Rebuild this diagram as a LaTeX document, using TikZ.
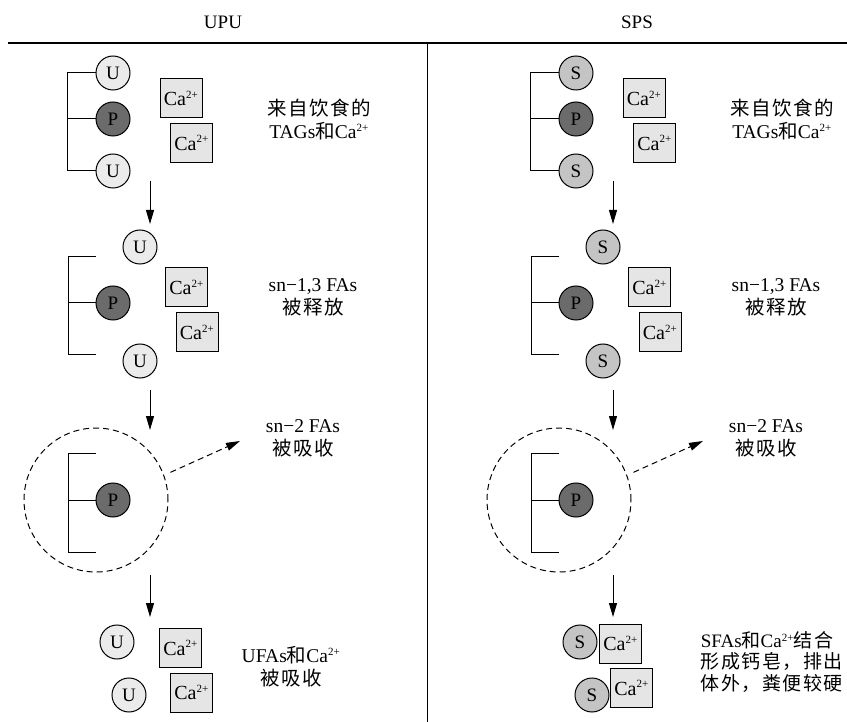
\documentclass[tikz,border=0pt]{standalone}
\usepackage{fontspec}
\setmainfont{Liberation Serif}
\newfontfamily\cjk[LetterSpace=8]{Noto Sans CJK SC}
\usetikzlibrary{arrows.meta}
\newcommand\caion{Ca\textsuperscript{\fontsize{11}{11}\selectfont 2+}}
\begin{document}
\begin{tikzpicture}[x=1pt,y=-1pt,line width=1pt,
   fa/.style={circle,draw,minimum size=34pt,inner sep=0pt,font=\fontsize{19}{19}\selectfont},
   ca/.style={draw,fill=black!10,minimum width=42pt,minimum height=39pt,inner sep=0pt,font=\fontsize{20}{20}\selectfont},
   txt/.style={align=center,font=\fontsize{19.5}{23}\selectfont},
   flow/.style={-{Triangle[length=14pt,width=8pt]}},
   dflow/.style={flow,dash pattern=on 6pt off 4pt}]
   \useasboundingbox (0,0) rectangle (847,722);
   \node[font=\fontsize{19}{19}\selectfont] (hU) at (223,22) {UPU};
   \node[font=\fontsize{19}{19}\selectfont] (hS) at (637,22) {SPS};
   \draw[line width=1.5pt] (8,43) -- (847,43);
   \draw (427,44) -- (427,722);
   \foreach \dx/\f/\c in {0/U/black!8,463/S/black!23} {
     \begin{scope}[xshift=\dx]
       % row 1
       \node[fa,fill=\c] (t1\f) at (113,73) {\f};
       \node[fa,fill=black!58] (m1\f) at (113,119) {P};
       \node[fa,fill=\c] (b1\f) at (113,171) {\f};
       \draw (t1\f.west) -- ++(-28,0) |- (b1\f.west);
       \draw (m1\f.west) -- ++(-28,0);
       \node[ca] (c1\f) at (181,98.5) {\caion};
       \node[ca] (d1\f) at (191.5,143) {\caion};
       \node[txt] (x1\f) at (319,120) {{\cjk 来自饮食的}\\TAGs{\cjk 和}\caion};
       \coordinate (s1\f) at (150,181);
       \coordinate (e1\f) at (150,224);
       \draw[flow] (s1\f) -- (e1\f);
       % row 2
       \node[fa,fill=\c] (t2\f) at (140,247) {\f};
       \node[fa,fill=black!58] (m2\f) at (113,303) {P};
       \node[fa,fill=\c] (b2\f) at (140,361) {\f};
       \coordinate (g2\f) at (96,257);
       \coordinate (h2\f) at (96,355);
       \draw (g2\f) -- ++(-28,0) |- (h2\f);
       \draw (m2\f.west) -- ++(-28,0);
       \node[ca] (c2\f) at (186.5,287.5) {\caion};
       \node[ca] (d2\f) at (197,332.5) {\caion};
       \node[txt] (x2\f) at (313,297) {sn−1,3 FAs\\{\cjk 被释放}};
       \coordinate (s2\f) at (150,390);
       \coordinate (e2\f) at (150,430);
       \draw[flow] (s2\f) -- (e2\f);
       % row 3
       \node[circle,draw,dash pattern=on 6pt off 4pt,minimum size=144pt] (o3\f) at (96,500) {};
       \node[fa,fill=black!58] (m3\f) at (113,500) {P};
       \coordinate (g3\f) at (96,453);
       \coordinate (h3\f) at (96,552);
       \draw (g3\f) -- ++(-28,0) |- (h3\f);
       \draw (m3\f.west) -- ++(-28,0);
       \coordinate (e4\f) at (240,441);
       \draw[dflow,shorten <=7pt] (o3\f.20) -- (e4\f);
       \node[txt] (x3\f) at (303,438) {sn−2 FAs\\{\cjk 被吸收}};
       \coordinate (s3\f) at (150,575);
       \coordinate (e3\f) at (150,617);
       \draw[flow] (s3\f) -- (e3\f);
     \end{scope}
   }
   % row 4, UPU
   \node[fa,fill=black!8] (u4a) at (117,642) {U};
   \node[fa,fill=black!8] (u4b) at (129,695) {U};
   \node[ca] (c4U) at (180.5,648) {\caion};
   \node[ca] (d4U) at (191.5,692.5) {\caion};
   \node[txt] (x4U) at (291,667) {UFAs{\cjk 和}\caion\\{\cjk 被吸收}};
   % row 4, SPS
   \node[fa,fill=black!23] (s4a) at (580,642) {S};
   \node[fa,fill=black!23] (s4b) at (592,695) {S};
   \node[ca] (c4S) at (620.5,643.5) {\caion};
   \node[ca] (d4S) at (631.5,688) {\caion};
   \node[txt,align=left,anchor=west,font=\fontsize{19}{21.5}\selectfont] (x4S) at (697,662)
     {SFAs{\cjk 和}\caion{\cjk 结合}\\{\cjk 形成钙皂，排出}\\{\cjk 体外，粪便较硬}};
\end{tikzpicture}
\end{document}
